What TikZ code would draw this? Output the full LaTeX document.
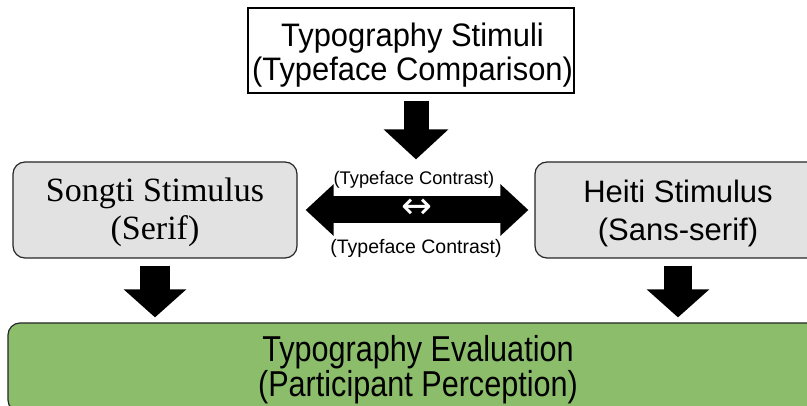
\documentclass[tikz,border=0pt]{standalone}
\usepackage{fontspec}
\setmainfont{Liberation Sans}
\newfontfamily\seriffont{Liberation Serif}
\newfontfamily\topfont{Liberation Sans}[FakeStretch=0.95]
\newfontfamily\condfont{Liberation Sans}[FakeStretch=0.85]
\newfontfamily\symfont{DejaVu Sans}
\usetikzlibrary{arrows.meta}
\definecolor{boxgray}{RGB}{226,226,226}
\definecolor{evalgreen}{RGB}{139,189,107}
\begin{document}
\begin{tikzpicture}[x=1pt,y=-1pt,
  box/.style={draw=black, line width=1.2pt, inner sep=0pt},
  roundbox/.style={box, rounded corners=12pt, draw=black!85},
  boxtext/.style={align=center, inner sep=0pt},
  downarrow/.style={line width=#1, -{Triangle[width=61pt,length=28pt]}},
  lbl/.style={inner sep=0pt}]
\useasboundingbox (0,0) rectangle (807,406);
\fill[white] (0,0) rectangle (807,406);

% boxes
\node[box, minimum width=326pt, minimum height=85pt] (stim) at (411,50.5) {};
\node[roundbox, fill=boxgray, minimum width=284pt, minimum height=96pt] (songti) at (155,210) {};
\node[roundbox, fill=boxgray, minimum width=286pt, minimum height=96pt] (heiti) at (678,210) {};
\node[roundbox, fill=evalgreen, minimum width=816pt, minimum height=89pt] (eval) at (416,367.5) {};

% box texts
\node[boxtext, font=\topfont\fontsize{32.5}{33.5}\selectfont] (stimtxt) at (412.5,55)
  {Typography Stimuli\\(Typeface Comparison)};
\node[boxtext, font=\seriffont\fontsize{34}{38}\selectfont] (songtitxt) at (155,212.8)
  {Songti Stimulus\\(Serif)};
\node[boxtext, font=\fontsize{31}{38}\selectfont] (heititxt) at (678,213.3)
  {Heiti Stimulus\\(Sans-serif)};
\node[boxtext, font=\condfont\fontsize{36}{30}\selectfont] (evaltxt) at (418,369.5)
  {Typography Evaluation\\(Participant Perception)};

% block arrows
\draw[line width=25pt, -{Triangle[width=63pt,length=30pt]}]
  ([xshift=5pt,yshift=-7pt]stim.south) -- ([xshift=5pt,yshift=2pt]stim.south |- songti.north);
\draw[downarrow=30pt] ([yshift=-7pt]songti.south) -- ([yshift=5pt]songti.south |- eval.north);
\draw[downarrow=28pt] ([yshift=-7pt]heiti.south) -- ([yshift=5pt]heiti.south |- eval.north);
\draw[line width=27pt, {Triangle[width=50pt,length=28pt]}-{Triangle[width=50pt,length=28pt]}]
  ([xshift=8pt]songti.east) -- ([xshift=-6pt]heiti.west);

\node[lbl, font=\fontsize{18.3}{20}\selectfont] (lblup) at (414,180) {(Typeface Contrast)};
\node[lbl, font=\fontsize{19.5}{21}\selectfont] (lbldown) at (416,248) {(Typeface Contrast)};
\node[lbl, text=white, font=\symfont\fontsize{37}{37}\selectfont] (swap) at (417,209) {↔};
\end{tikzpicture}
\end{document}
